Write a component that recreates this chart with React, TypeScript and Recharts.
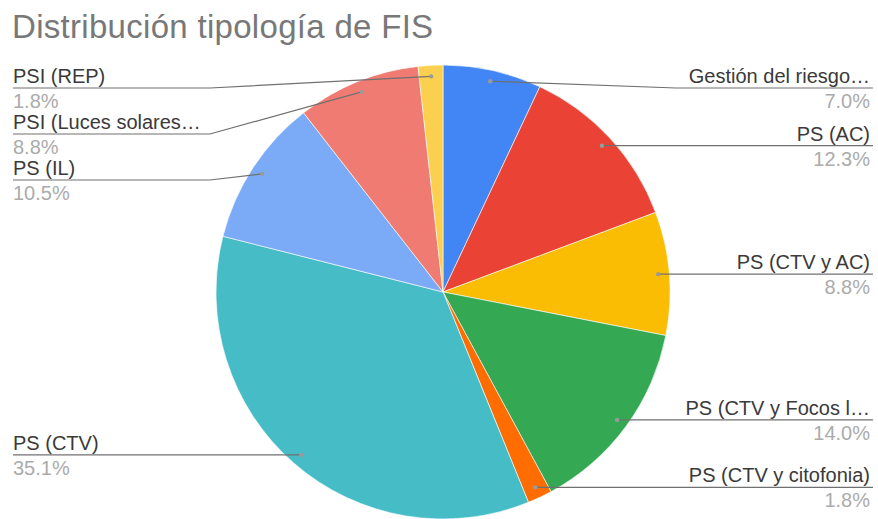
import React, { useMemo } from 'react';
import { PieChart, Pie, Cell } from 'recharts';

// Slices, clockwise from 12 o'clock
const CATEGORIES = [
  'Gestión del riesgo…',
  'PS (AC)',
  'PS (CTV y AC)',
  'PS (CTV y Focos l…',
  'PS (CTV y citofonia)',
  'PS (CTV)',
  'PS (IL)',
  'PSI (Luces solares…',
  'PSI (REP)',
];
const COUNTS = [4, 7, 5, 8, 1, 20, 6, 5, 1];
const COLORS = ['#4285F4', '#EA4335', '#FBBC04', '#34A853', '#FF6D01', '#46BDC6', '#7BAAF7', '#F07B72', '#FCD04F'];

const W = 878;
const H = 519;
const CX = 443;
const CY = 292;
const R = 227;
const DOT_R = 216;
const FONT = '"Liberation Sans", Arial, sans-serif';

const RAD = Math.PI / 180;

type LabelPos = { side: 'left' | 'right'; lineY: number; pct: string };

const App: React.FC = () => {
  const data = CATEGORIES.map((name, i) => ({ name, value: COUNTS[i] }));

  // work out where each label goes, google-sheets style (push apart on each side)
  const layout = useMemo<LabelPos[]>(() => {
    const total = COUNTS.reduce((a, b) => a + b, 0);
    let acc = 0;
    const items = COUNTS.map((v, i) => {
      const ang = ((acc + v / 2) / total) * 360 * RAD;
      acc += v;
      return {
        i,
        side: (Math.sin(ang) >= 0 ? 'right' : 'left') as 'left' | 'right',
        dotY: CY - DOT_R * Math.cos(ang),
        pct: ((v / total) * 100).toFixed(1) + '%',
      };
    });
    const out: LabelPos[] = [];
    (['left', 'right'] as const).forEach((side) => {
      let prev = -Infinity;
      items
        .filter((it) => it.side === side)
        .sort((a, b) => a.dotY - b.dotY)
        .forEach((it) => {
          const y = Math.max(it.dotY, prev + 46, 88);
          prev = y;
          out[it.i] = { side, lineY: y, pct: it.pct };
        });
    });
    return out;
  }, []);

  const renderLabel = (props: any) => {
    const { cx, cy, midAngle, index, name } = props;
    const pos = layout[index];
    const dx = cx + DOT_R * Math.cos(-midAngle * RAD);
    const dy = cy + DOT_R * Math.sin(-midAngle * RAD);
    const right = pos.side === 'right';
    const elbowX = right ? 676 : 210;
    const edgeX = right ? 873 : 13;
    const textX = right ? 870 : 13;
    const anchor = right ? 'end' : 'start';
    return (
      <g key={`lbl-${index}`}>
        <polyline
          points={`${dx},${dy} ${elbowX},${pos.lineY} ${edgeX},${pos.lineY}`}
          fill="none"
          stroke="#707070"
          strokeWidth={1.2}
        />
        <circle cx={dx} cy={dy} r={2.2} fill="#9a9a9a" />
        <text x={textX} y={pos.lineY - 5} textAnchor={anchor} fontFamily={FONT} fontSize={20} fill="#3a3a3a">
          {name}
        </text>
        <text x={textX} y={pos.lineY + 20} textAnchor={anchor} fontFamily={FONT} fontSize={20} fill="#ababab">
          {pos.pct}
        </text>
      </g>
    );
  };

  return (
    <div style={{ position: 'absolute', left: 0, top: 0, width: W, height: H, background: '#fff' }}>
      <div
        style={{
          position: 'absolute',
          left: 12,
          top: 10,
          fontFamily: FONT,
          fontSize: 33,
          lineHeight: '33px',
          letterSpacing: 0.3,
          color: '#787878',
          whiteSpace: 'nowrap',
        }}
      >
        Distribución tipología de FIS
      </div>
      <PieChart width={W} height={H} margin={{ top: 0, right: 0, bottom: 0, left: 0 }}>
        <Pie
          data={data}
          dataKey="value"
          nameKey="name"
          cx={CX}
          cy={CY}
          outerRadius={R}
          startAngle={90}
          endAngle={-270}
          stroke="#ffffff"
          strokeWidth={0.6}
          label={renderLabel}
          labelLine={false}
          isAnimationActive={false}
        >
          {data.map((d, i) => (
            <Cell key={d.name} fill={COLORS[i]} />
          ))}
        </Pie>
      </PieChart>
    </div>
  );
};

export default App;
